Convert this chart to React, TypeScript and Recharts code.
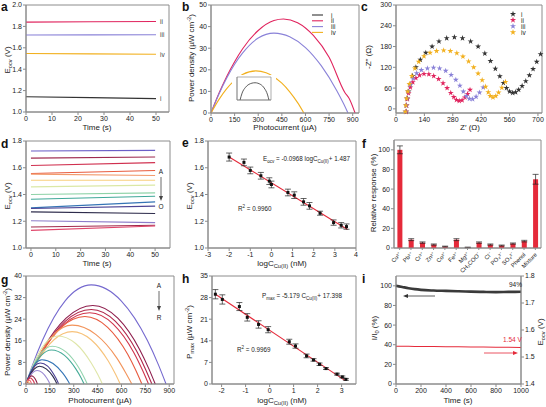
import React from "react";
import {
  LineChart, Line, XAxis, YAxis, ReferenceArea, ScatterChart, Scatter, ZAxis,
  ComposedChart, ErrorBar, BarChart, Bar, Symbols,
} from "recharts";

const FONT = "'Liberation Sans', Arial, Helvetica, sans-serif";
const AX = "#8c8c8c";
const INK = "#222";
const RED = "#e52a3a";

// shared series names / colours (a, b, c)
const romanNames = ["i", "ii", "iii", "iv"];
const romanColors = ["#333333", "#e0245e", "#8a82d8", "#f2b01e"];

// a: E_ocv vs time
const timeA = [0, 25, 50];
const ocvAi = [1.143, 1.134, 1.125];
const ocvAii = [1.84, 1.843, 1.846];
const ocvAiii = [1.72, 1.721, 1.722];
const ocvAiv = [1.547, 1.543, 1.54];

// b: power density vs photocurrent
const powBii = [[0, 0], [50, 9], [100, 16.9], [150, 23.7], [200, 29.6], [300, 38.2], [400, 42.8], [460, 43.5], [550, 41.8], [650, 35.9], [750, 25.8], [850, 9.5], [880, 6.4], [915, 0]];
const powBiii = [[0, 0], [50, 8.7], [100, 16.2], [150, 22.6], [200, 27.7], [300, 34.7], [400, 37], [500, 35.3], [600, 30.3], [700, 21.9], [800, 10.2], [840, 4.6], [870, 0]];
const powBiv = [[0, 0], [50, 6.2], [100, 11.3], [150, 15.1], [200, 17.8], [285, 19.5], [350, 18.6], [400, 16.7], [450, 13.8], [500, 9.8], [550, 4.8], [590, 0]];
const insetBi = [[0.9, 0], [1.5, 0.3], [2.5, 0.55], [3.5, 0.68], [5.3, 0.75], [7, 0.67], [8, 0.52], [9, 0.22], [9.4, 0]];

// c: Nyquist plots
const nyqI = [[50, -8], [52, 10], [56, 30], [62, 50], [70, 70], [82, 95], [98, 120], [120, 142], [147, 162], [178, 180], [212, 195], [250, 204], [288, 207], [328, 204], [368, 195], [405, 180], [438, 160], [466, 138], [490, 116], [512, 94], [530, 75], [545, 60], [560, 50], [575, 46], [590, 48], [605, 55], [622, 66], [640, 80], [658, 97], [676, 115], [694, 136], [713, 158]];
const nyqII = [[50, -8], [52, 10], [56, 28], [62, 45], [71, 62], [83, 77], [98, 89], [116, 97], [138, 101], [162, 100], [186, 95], [210, 86], [232, 74], [252, 60], [270, 46], [285, 34], [298, 26], [312, 23], [326, 25], [340, 33], [353, 43], [365, 55]];
const nyqIII = [[48, -8], [50, 10], [54, 30], [60, 50], [70, 70], [84, 88], [102, 103], [125, 112], [155, 117], [185, 119], [215, 117], [245, 110], [272, 98], [295, 84], [315, 67], [332, 50], [347, 37], [362, 29], [378, 28], [395, 35], [412, 47], [430, 62]];
const nyqIV = [[46, -8], [48, 10], [52, 30], [58, 50], [66, 72], [78, 95], [93, 117], [112, 136], [138, 152], [168, 162], [200, 167], [235, 169], [268, 167], [300, 161], [330, 151], [358, 137], [383, 120], [405, 102], [425, 83], [442, 64], [455, 48], [465, 37], [478, 33], [492, 37], [506, 47], [522, 61], [540, 78]];

// d: E_ocv vs time, samples A..O (t = 0 and t = 50)
const dNames = ["A", "B", "C", "D", "E", "F", "G", "H", "I", "J", "K", "L", "M", "N", "O"];
const dStart = [1.725, 1.672, 1.617, 1.557, 1.552, 1.507, 1.457, 1.40, 1.365, 1.30, 1.295, 1.27, 1.204, 1.157, 1.132];
const dEnd = [1.73, 1.68, 1.638, 1.58, 1.542, 1.507, 1.47, 1.412, 1.387, 1.345, 1.313, 1.258, 1.19, 1.17, 1.164];
const dColors = ["#6b5fc7", "#9e2a4f", "#d0304f", "#e85a3c", "#f29a6c", "#f8cf7c", "#dbe8a5", "#8fd3a8", "#3fa898", "#3574b5", "#4c4495", "#2e2c4c", "#8e7cc9", "#a0294a", "#e0456a"];

// e: calibration E_ocv
const eLogC = [-2.0, -1.3, -1.0, -0.5, -0.1, 0.0, 0.78, 1.08, 1.52, 1.8, 2.3, 2.94, 3.3, 3.55];
const eOcv = [1.68, 1.64, 1.58, 1.54, 1.50, 1.475, 1.415, 1.395, 1.345, 1.315, 1.26, 1.19, 1.17, 1.16];
const eErr = [0.03, 0.025, 0.025, 0.025, 0.025, 0.025, 0.025, 0.025, 0.025, 0.025, 0.015, 0.02, 0.02, 0.02];
const eFitX = [-2.0, 3.6];
const eFitY = [1.681, 1.139];

// f: selectivity
const fIons = ["Cu²⁺", "Pb²⁺", "Cr³⁺", "Zn²⁺", "Co²⁺", "Fe³⁺", "Mg²⁺", "CH₃COO⁻", "Cl⁻", "PO₄³⁻", "SO₄²⁻", "Phenol", "Mixture"];
const fResp = [100, 8.5, 5.5, 3.5, 1.5, 8.5, 0.6, 5.5, 3.5, 2.5, 4.5, 7, 70];
const fErr = [4, 1, 0.7, 0.6, 0.4, 1, 0.3, 0.7, 0.6, 0.5, 0.6, 0.8, 5];

// g: power density curves A..R
const gA = [[0, 0], [41, 7.0], [103, 16.1], [246, 30.8], [410, 36.7], [598, 30.8], [763, 16.1], [833, 7.0], [880, 0]];
const gB = [[0, 0], [42, 5.5], [105, 12.8], [252, 24.4], [420, 29.1], [577, 24.4], [714, 12.8], [773, 5.5], [812, 0]];
const gC = [[0, 0], [41, 5.2], [103, 12.1], [246, 23.2], [410, 27.6], [562, 23.2], [696, 12.1], [753, 5.2], [791, 0]];
const gD = [[0, 0], [40, 5.0], [100, 11.6], [240, 22.2], [400, 26.4], [548, 22.2], [678, 11.6], [733, 5.0], [770, 0]];
const gE = [[0, 0], [37, 4.8], [93, 11.0], [222, 21.0], [370, 25.0], [513, 21.0], [639, 11.0], [692, 4.8], [728, 0]];
const gF = [[0, 0], [29, 4.1], [73, 9.6], [174, 18.3], [290, 21.8], [440, 18.3], [571, 9.6], [627, 4.1], [665, 0]];
const gG = [[0, 0], [29, 3.7], [73, 8.5], [174, 16.3], [290, 19.4], [411, 16.3], [517, 8.5], [562, 3.7], [592, 0]];
const gH = [[0, 0], [20, 3.4], [50, 7.8], [120, 15.0], [200, 17.8], [312, 15.0], [410, 7.8], [452, 3.4], [480, 0]];
const gI = [[0, 0], [17, 2.7], [41, 6.2], [99, 11.8], [165, 14.0], [253, 11.8], [330, 6.2], [363, 2.7], [385, 0]];
const gJ = [[0, 0], [16, 2.4], [40, 5.5], [96, 10.6], [160, 12.6], [242, 10.6], [314, 5.5], [345, 2.4], [365, 0]];
const gK = [[0, 0], [10, 1.7], [25, 4.0], [60, 7.6], [100, 9.0], [170, 7.6], [231, 4.0], [258, 1.7], [275, 0]];
const gL = [[0, 0], [9, 1.5], [23, 3.4], [54, 6.6], [90, 7.8], [136, 6.6], [176, 3.4], [194, 1.5], [205, 0]];
const gM = [[0, 0], [9, 1.3], [21, 2.9], [51, 5.5], [85, 6.6], [129, 5.5], [168, 2.9], [184, 1.3], [195, 0]];
const gN = [[0, 0], [7, 1.0], [18, 2.2], [42, 4.2], [70, 5.0], [102, 4.2], [130, 2.2], [142, 1.0], [150, 0]];
const gO = [[0, 0], [4, 0.6], [9, 1.3], [21, 2.5], [35, 3.0], [50, 2.5], [63, 1.3], [68, 0.6], [72, 0]];
const gP = [[0, 0], [3, 0.4], [7, 1.0], [16, 1.8], [27, 2.2], [38, 1.8], [48, 1.0], [52, 0.4], [55, 0]];
const gQ = [[0, 0], [2, 0.3], [4, 0.7], [10, 1.3], [17, 1.5], [24, 1.3], [31, 0.7], [33, 0.3], [35, 0]];
const gR = [[0, 0], [1, 0.2], [3, 0.4], [6, 0.8], [10, 1.0], [15, 0.8], [19, 0.4], [21, 0.2], [22, 0]];
const gCurves = [gA, gB, gC, gD, gE, gF, gG, gH, gI, gJ, gK, gL, gM, gN, gO, gP, gQ, gR];
const gColors = ["#7569cf", "#8e1d4c", "#b0264a", "#d0344c", "#e8593e", "#f2935a", "#f7c27a", "#dfe6a8", "#93d4ae", "#46ab98", "#3474b6", "#4a3f93", "#2d2b4d", "#9a88d2", "#8e1f45", "#d4334f", "#ef6470", "#f29a5c"];

// h: calibration P_max
const hLogC = [-2.26, -1.97, -1.26, -0.93, -0.46, -0.06, 0.82, 1.08, 1.54, 1.83, 2.08, 2.35, 2.81, 3.03, 3.18];
const hPmax = [29.1, 27.4, 25.1, 21.6, 19.3, 17.6, 13.7, 12.3, 9.1, 7.8, 6.4, 5.0, 3.2, 2.3, 1.5];
const hErr = [1.5, 1.5, 1.3, 1.2, 1.2, 1.0, 0.8, 0.7, 0.6, 0.4, 0.4, 0.3, 0.3, 0.3, 0.3];
const hFitX = [-2.3, 3.15];
const hFitY = [29.31, 1.08];

// i: stability
const iTime = [0, 50, 100, 150, 200, 300, 400, 500, 600, 700, 800, 900, 1000];
const iRatio = [100, 98.8, 97.6, 96.6, 95.9, 95.2, 94.8, 94.4, 94.1, 93.8, 93.6, 93.8, 93.9];
const iVolt = [1.54, 1.54, 1.54, 1.539, 1.539, 1.539, 1.538, 1.538, 1.537, 1.537, 1.536, 1.536, 1.535];

// ---------- helpers
const pts = (a: number[][]) => a.map(([x, y]) => ({ x, y }));
const tick = { fontSize: 7, fill: INK, fontFamily: FONT };
const ax = { tick, axisLine: { stroke: AX }, tickLine: { stroke: AX }, tickSize: 3, tickMargin: 1 };
const f1 = (v: number) => v.toFixed(1);

const rowsA = timeA.map((t, k) => ({ t, i: ocvAi[k], ii: ocvAii[k], iii: ocvAiii[k], iv: ocvAiv[k] }));
const rowsD = [0, 50].map((t, k) => {
  const r: any = { t };
  dNames.forEach((n, j) => (r[n] = k === 0 ? dStart[j] : dEnd[j]));
  return r;
});
const ptsE = eLogC.map((x, k) => ({ x, y: eOcv[k], e: eErr[k] }));
const fitE = eFitX.map((x, k) => ({ x, y: eFitY[k] }));
const rowsF = fIons.map((name, k) => ({ name, v: fResp[k], e: fErr[k] }));
const ptsH = hLogC.map((x, k) => ({ x, y: hPmax[k], e: hErr[k] }));
const fitH = hFitX.map((x, k) => ({ x, y: hFitY[k] }));
const rowsI = iTime.map((t, k) => ({ t, ratio: iRatio[k], volt: iVolt[k] }));

const endLabel = (name: string, last: number) => (p: any) =>
  p.index === last ? (
    <text x={p.x + 4} y={p.y + 2.5} fontSize={6.5} fill="#444" fontFamily={FONT}>{name}</text>
  ) : <g />;

const starShape = (color: string) => (p: any) => (
  <Symbols cx={p.cx} cy={p.cy} type="star" size={11} fill={color} />
);

const IonTick = (p: any) => (
  <g transform={`translate(${p.x + 2},${p.y + 3})`}>
    <text transform="rotate(-45)" textAnchor="end" fontSize={5.8} fill={INK} fontFamily={FONT}>{p.payload.value}</text>
  </g>
);

type Part = string | [string, "b" | "p"];
function Txt({ x, y, parts, size = 8, rot, anchor = "middle", fill = INK, bold }: any) {
  let cur = 0;
  const spans = (parts as Part[]).map((p, k) => {
    const [s, m] = typeof p === "string" ? [p, undefined] : p;
    const off = m === "b" ? size * 0.3 : m === "p" ? -size * 0.4 : 0;
    const dy = off - cur;
    cur = off;
    return <tspan key={k} dy={dy} fontSize={m ? size * 0.72 : size}>{s}</tspan>;
  });
  return (
    <text x={x} y={y} textAnchor={anchor} fill={fill} fontFamily={FONT} fontWeight={bold ? 700 : 400}
      transform={rot ? `rotate(${rot} ${x} ${y})` : undefined}>{spans}</text>
  );
}

const box = (left: number, top: number): React.CSSProperties => ({ position: "absolute", left, top });

export default function App() {
  return (
    <div style={{ position: "absolute", left: 0, top: 0, width: 546, height: 407, background: "#fff", overflow: "hidden" }}>
      {/* a */}
      <div style={box(0, 0)}>
        <LineChart width={180} height={135} data={rowsA} margin={{ top: 5, right: 11, bottom: 0, left: 0 }}>
          <XAxis {...ax} dataKey="t" type="number" domain={[0, 55]} ticks={[0, 10, 20, 30, 40, 50]} height={23} />
          <YAxis {...ax} type="number" domain={[1, 2]} ticks={[1, 1.2, 1.4, 1.6, 1.8, 2]} tickFormatter={f1} width={26} />
          <ReferenceArea x1={0} x2={55} y1={1} y2={2} fill="none" stroke={AX} ifOverflow="visible" />
          {romanNames.map((n, k) => (
            <Line key={n} dataKey={n} stroke={romanColors[k]} strokeWidth={1.1} dot={false}
              isAnimationActive={false} label={endLabel(n, timeA.length - 1)} />
          ))}
        </LineChart>
      </div>

      {/* b */}
      <div style={box(180, 0)}>
        <LineChart width={186} height={135} margin={{ top: 5, right: 7, bottom: 0, left: 0 }}>
          <XAxis {...ax} dataKey="x" type="number" domain={[0, 940]} ticks={[0, 150, 300, 450, 600, 750, 900]} height={22} />
          <YAxis {...ax} type="number" domain={[0, 50]} ticks={[0, 10, 20, 30, 40, 50]} width={31} />
          <ReferenceArea x1={0} x2={940} y1={0} y2={50} fill="none" stroke={AX} ifOverflow="visible" />
          {[powBii, powBiii, powBiv].map((s, k) => (
            <Line key={k} data={pts(s)} dataKey="y" type="monotone" stroke={romanColors[k + 1]} strokeWidth={1.1}
              dot={false} isAnimationActive={false} />
          ))}
        </LineChart>
      </div>
      <div style={{ ...box(232, 75), background: "#fff" }}>
        <LineChart width={44} height={33} margin={{ top: 2, right: 5, bottom: 0, left: 0 }}>
          <XAxis dataKey="x" type="number" domain={[0, 10]} ticks={[0, 2.5, 5, 7.5, 10]} tick={false} height={8}
            axisLine={{ stroke: "#777", strokeWidth: 0.6 }} tickLine={{ stroke: "#777", strokeWidth: 0.5 }} tickSize={1.5} />
          <YAxis type="number" domain={[0, 1]} ticks={[0, 0.2, 0.4, 0.6, 0.8, 1]} tick={false} width={5}
            axisLine={{ stroke: "#777", strokeWidth: 0.6 }} tickLine={{ stroke: "#777", strokeWidth: 0.5 }} tickSize={1.5} />
          <ReferenceArea x1={0} x2={10} y1={0} y2={1} fill="none" stroke="#777" strokeWidth={0.6} ifOverflow="visible" />
          <Line data={pts(insetBi)} dataKey="y" type="monotone" stroke="#333" strokeWidth={0.8} dot={false} isAnimationActive={false} />
        </LineChart>
      </div>

      {/* c */}
      <div style={box(360, 0)}>
        <ScatterChart width={186} height={135} margin={{ top: 5, right: 4, bottom: 0, left: 0 }}>
          <XAxis {...ax} dataKey="x" type="number" domain={[0, 720]} ticks={[0, 140, 280, 420, 560, 700]} height={22} />
          <YAxis {...ax} dataKey="y" type="number" domain={[-12, 300]} ticks={[0, 60, 120, 180, 240, 300]} width={36} />
          <ReferenceArea x1={0} x2={720} y1={-12} y2={300} fill="none" stroke={AX} ifOverflow="visible" />
          {[nyqI, nyqII, nyqIII, nyqIV].map((s, k) => (
            <Scatter key={k} data={pts(s)} fill={romanColors[k]} shape={starShape(romanColors[k])} isAnimationActive={false} />
          ))}
        </ScatterChart>
      </div>

      {/* d */}
      <div style={box(0, 130)}>
        <LineChart width={180} height={137} data={rowsD} margin={{ top: 11, right: 10, bottom: 0, left: 0 }}>
          <XAxis {...ax} dataKey="t" type="number" domain={[-2, 56]} ticks={[0, 10, 20, 30, 40, 50]} height={19} />
          <YAxis {...ax} type="number" domain={[1, 1.8]} ticks={[1, 1.2, 1.4, 1.6, 1.8]} tickFormatter={f1} width={26} />
          <ReferenceArea x1={-2} x2={56} y1={1} y2={1.8} fill="none" stroke={AX} ifOverflow="visible" />
          {dNames.map((n, k) => (
            <Line key={n} dataKey={n} stroke={dColors[k]} strokeWidth={1.1} dot={false} isAnimationActive={false} />
          ))}
        </LineChart>
      </div>

      {/* e */}
      <div style={box(180, 130)}>
        <ComposedChart width={186} height={137} margin={{ top: 11, right: 10, bottom: 0, left: 0 }}>
          <XAxis {...ax} dataKey="x" type="number" domain={[-3, 4]} ticks={[-3, -2, -1, 0, 1, 2, 3, 4]} height={19} />
          <YAxis {...ax} dataKey="y" type="number" domain={[1, 1.8]} ticks={[1, 1.2, 1.4, 1.6, 1.8]} tickFormatter={f1} width={28} />
          <ZAxis range={[9, 9]} />
          <ReferenceArea x1={-3} x2={4} y1={1} y2={1.8} fill="none" stroke={AX} ifOverflow="visible" />
          <Line data={fitE} dataKey="y" stroke={RED} strokeWidth={1.1} dot={false} isAnimationActive={false} />
          <Scatter data={ptsE} fill="#111" shape="square" isAnimationActive={false}>
            <ErrorBar dataKey="e" direction="y" width={3} stroke="#222" strokeWidth={0.7} />
          </Scatter>
        </ComposedChart>
      </div>

      {/* f */}
      <div style={box(360, 130)}>
        <BarChart width={186} height={146} data={rowsF} margin={{ top: 10, right: 5, bottom: 0, left: 0 }} barCategoryGap="30%">
          <XAxis dataKey="name" interval={0} tick={<IonTick />} height={28} axisLine={{ stroke: AX }} tickLine={{ stroke: AX }} tickSize={2} />
          <YAxis {...ax} type="number" domain={[0, 110]} ticks={[0, 20, 40, 60, 80, 100]} width={34} />
          <ReferenceArea y1={0} y2={110} fill="none" stroke={AX} ifOverflow="visible" />
          <Bar dataKey="v" fill={RED} isAnimationActive={false}>
            <ErrorBar dataKey="e" width={3} stroke="#222" strokeWidth={0.7} />
          </Bar>
        </BarChart>
      </div>

      {/* g */}
      <div style={box(0, 265)}>
        <LineChart width={180} height={142} margin={{ top: 11, right: 6, bottom: 0, left: 0 }}>
          <XAxis {...ax} dataKey="x" type="number" domain={[0, 930]} ticks={[0, 150, 300, 450, 600, 750, 900]} height={23} />
          <YAxis {...ax} type="number" domain={[0, 40]} ticks={[0, 8, 16, 24, 32, 40]} width={26} />
          <ReferenceArea x1={0} x2={930} y1={0} y2={40} fill="none" stroke={AX} ifOverflow="visible" />
          {gCurves.map((s, k) => (
            <Line key={k} data={pts(s)} dataKey="y" type="monotone" stroke={gColors[k]} strokeWidth={1.1}
              dot={false} isAnimationActive={false} />
          ))}
        </LineChart>
      </div>

      {/* h */}
      <div style={box(180, 265)}>
        <ComposedChart width={186} height={142} margin={{ top: 11, right: 10, bottom: 0, left: 0 }}>
          <XAxis {...ax} dataKey="x" type="number" domain={[-2.4, 3.6]} ticks={[-2, -1, 0, 1, 2, 3]} height={23} />
          <YAxis {...ax} dataKey="y" type="number" domain={[0, 35]} ticks={[0, 7, 14, 21, 28, 35]} width={32} />
          <ZAxis range={[9, 9]} />
          <ReferenceArea x1={-2.4} x2={3.6} y1={0} y2={35} fill="none" stroke={AX} ifOverflow="visible" />
          <Line data={fitH} dataKey="y" stroke={RED} strokeWidth={1.1} dot={false} isAnimationActive={false} />
          <Scatter data={ptsH} fill="#111" shape="square" isAnimationActive={false}>
            <ErrorBar dataKey="e" direction="y" width={3} stroke="#222" strokeWidth={0.7} />
          </Scatter>
        </ComposedChart>
      </div>

      {/* i */}
      <div style={box(360, 265)}>
        <LineChart width={186} height={142} data={rowsI} margin={{ top: 11, right: 0, bottom: 0, left: 0 }}>
          <XAxis {...ax} dataKey="t" type="number" domain={[0, 1000]} ticks={[0, 200, 400, 600, 800, 1000]} height={23} />
          <YAxis {...ax} yAxisId="l" type="number" domain={[0, 110]} ticks={[0, 20, 40, 60, 80, 100]} width={36} />
          <YAxis {...ax} yAxisId="r" orientation="right" type="number" domain={[1.4, 1.8]} ticks={[1.4, 1.5, 1.6, 1.7, 1.8]} tickFormatter={f1} width={25} />
          <ReferenceArea yAxisId="l" x1={0} x2={1000} y1={0} y2={110} fill="none" stroke={AX} ifOverflow="visible" />
          <Line yAxisId="l" dataKey="ratio" type="monotone" stroke="#3a3a3a" strokeWidth={2.6} dot={false} isAnimationActive={false} />
          <Line yAxisId="r" dataKey="volt" stroke={RED} strokeWidth={1.1} dot={false} isAnimationActive={false} />
        </LineChart>
      </div>

      {/* text, legends and arrows */}
      <svg width={546} height={407} style={{ position: "absolute", left: 0, top: 0, pointerEvents: "none" }}>
        {[["a", 1, 11], ["b", 182, 11], ["c", 361, 11], ["d", 1, 148], ["e", 182, 147], ["f", 362, 148], ["g", 1, 284], ["h", 182, 283], ["i", 362, 283]].map(([s, x, y]) => (
          <Txt key={s as string} x={x} y={y} parts={[s]} size={12} bold anchor="start" fill="#111" />
        ))}

        {/* a */}
        <Txt x={97} y={130} parts={["Time (s)"]} />
        <Txt x={10} y={60} parts={["E", ["ocv", "b"], " (V)"]} rot={-90} />
        {/* b */}
        <Txt x={285} y={130} parts={["Photocurrent (µA)"]} />
        <Txt x={194} y={58} parts={["Power density (µW cm", ["-2", "p"], ")"]} rot={-90} />
        {romanNames.map((n, k) => (
          <g key={n}>
            <line x1={312} x2={323} y1={15 + k * 5.8} y2={15 + k * 5.8} stroke={romanColors[k]} strokeWidth={1.1} />
            <Txt x={331} y={17.5 + k * 5.8} parts={[n]} size={6.5} anchor="start" />
          </g>
        ))}
        {/* c */}
        <Txt x={470} y={130} parts={["Z′ (Ω)"]} />
        <Txt x={371} y={57} parts={["-Z″ (Ω)"]} rot={-90} />
        {romanNames.map((n, k) => (
          <g key={n}>
            <Symbols cx={513} cy={14 + k * 6.1} type="star" size={12} fill={romanColors[k]} />
            <Txt x={521} y={16.5 + k * 6.1} parts={[n]} size={6.5} anchor="start" />
          </g>
        ))}
        {/* d */}
        <Txt x={97} y={266} parts={["Time (s)"]} />
        <Txt x={10} y={196} parts={["E", ["ocv", "b"], " (V)"]} rot={-90} />
        <Txt x={161} y={174} parts={["A"]} size={6.5} />
        <line x1={161} x2={161} y1={177} y2={197} stroke="#444" strokeWidth={0.8} />
        <polygon points="159,196 163,196 161,201" fill="#444" />
        <Txt x={161} y={209} parts={["O"]} size={6.5} />
        {/* e */}
        <Txt x={282} y={266} parts={["logC", ["Cu(II)", "b"], " (nM)"]} />
        <Txt x={192} y={196} parts={["E", ["ocv", "b"], " (V)"]} rot={-90} />
        <Txt x={263} y={161} parts={["E", ["ocv", "b"], " = -0.0968 logC", ["Cu(II)", "b"], "+ 1.487"]} size={6.3} anchor="start" />
        <Txt x={238} y={211} parts={["R", ["2", "p"], " = 0.9960"]} size={6.3} anchor="start" />
        {/* f */}
        <Txt x={376} y={193} parts={["Relative response (%)"]} rot={-90} />
        {/* g */}
        <Txt x={100} y={403} parts={["Photocurrent (µA)"]} />
        <Txt x={10} y={332} parts={["Power density (µW cm", ["-2", "p"], ")"]} rot={-90} />
        <Txt x={159} y={288} parts={["A"]} size={6.5} />
        <line x1={159} x2={159} y1={291} y2={307} stroke="#444" strokeWidth={0.8} />
        <polygon points="157,306 161,306 159,311" fill="#444" />
        <Txt x={159} y={320} parts={["R"]} size={6.5} />
        {/* h */}
        <Txt x={282} y={403} parts={["logC", ["Cu(II)", "b"], " (nM)"]} />
        <Txt x={192} y={332} parts={["P", ["max", "b"], " (µW cm", ["-2", "p"], ")"]} rot={-90} />
        <Txt x={262} y={298} parts={["P", ["max", "b"], " = -5.179 C", ["Cu(II)", "b"], "+ 17.398"]} size={6.3} anchor="start" />
        <Txt x={237} y={352} parts={["R", ["2", "p"], " = 0.9969"]} size={6.3} anchor="start" />
        {/* i */}
        <Txt x={458} y={403} parts={["Time (s)"]} />
        <Txt x={377} y={328} parts={["I/I", ["0", "b"], " (%)"]} rot={-90} />
        <Txt x={543} y={332} parts={["E", ["ocv", "b"], " (V)"]} rot={-90} />
        <Txt x={509} y={287} parts={["94%"]} size={6.5} anchor="start" />
        <line x1={435} x2={407} y1={296} y2={296} stroke="#333" strokeWidth={0.8} />
        <polygon points="408,294 408,298 403,296" fill="#333" />
        <Txt x={503} y={342} parts={["1.54 V"]} size={6.5} anchor="start" fill={RED} />
        <line x1={484} x2={513} y1={353} y2={353} stroke={RED} strokeWidth={0.8} />
        <polygon points="513,351 513,355 518,353" fill={RED} />
      </svg>
    </div>
  );
}
